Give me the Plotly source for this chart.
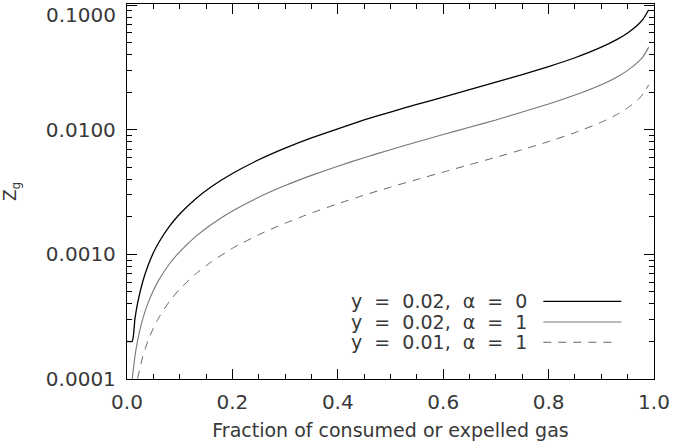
import plotly.graph_objects as go

# Gas-phase metallicity versus fraction of consumed or expelled gas
frac_a = [0.0, 0.01, 0.015, 0.02, 0.03, 0.04, 0.05, 0.06, 0.08, 0.10, 0.13, 0.16,
          0.20, 0.25, 0.30, 0.35, 0.40, 0.45, 0.50, 0.55, 0.60, 0.65, 0.70, 0.75,
          0.80, 0.85, 0.90, 0.93, 0.95, 0.97, 0.98, 0.99]
zg_y002_a0 = [0.0002, 0.000201, 0.000302, 0.000404, 0.000609, 0.000816, 0.00103,
              0.00124, 0.00167, 0.00211, 0.00279, 0.00349, 0.00446, 0.00575,
              0.00713, 0.00862, 0.0102, 0.0120, 0.0139, 0.0160, 0.0183, 0.0210,
              0.0241, 0.0277, 0.0322, 0.0379, 0.0461, 0.0532, 0.0599, 0.0701,
              0.0782, 0.0921]

frac_b = [0.01, 0.015, 0.02, 0.03, 0.04, 0.05, 0.06, 0.08, 0.10, 0.13, 0.16,
          0.20, 0.25, 0.30, 0.35, 0.40, 0.45, 0.50, 0.55, 0.60, 0.65, 0.70, 0.75,
          0.80, 0.85, 0.90, 0.93, 0.95, 0.97, 0.98, 0.99]
zg_y002_a1 = [0.0001005, 0.000151, 0.000202, 0.000305, 0.000408, 0.000513,
              0.000619, 0.000834, 0.00105, 0.00139, 0.00174, 0.00223, 0.00288,
              0.00357, 0.00431, 0.00511, 0.00598, 0.00693, 0.00799, 0.00916,
              0.0105, 0.0120, 0.0139, 0.0161, 0.0190, 0.0230, 0.0266, 0.0300,
              0.0351, 0.0391, 0.0461]

frac_c = [0.02, 0.03, 0.04, 0.05, 0.06, 0.08, 0.10, 0.13, 0.16,
          0.20, 0.25, 0.30, 0.35, 0.40, 0.45, 0.50, 0.55, 0.60, 0.65, 0.70, 0.75,
          0.80, 0.85, 0.90, 0.93, 0.95, 0.97, 0.98, 0.99]
zg_y001_a1 = [0.000101, 0.000152, 0.000204, 0.000256, 0.000309, 0.000417,
              0.000527, 0.000696, 0.000872, 0.00112, 0.00144, 0.00178, 0.00215,
              0.00255, 0.00299, 0.00347, 0.00399, 0.00458, 0.00525, 0.00602,
              0.00693, 0.00805, 0.00949, 0.0115, 0.0133, 0.0150, 0.0175,
              0.0196, 0.0230]

legend_labels = ["y = 0.02, α = 0", "y = 0.02, α = 1", "y = 0.01, α = 1"]
x_ticks = [0.0, 0.2, 0.4, 0.6, 0.8, 1.0]
x_tick_text = ["0.0", "0.2", "0.4", "0.6", "0.8", "1.0"]
y_ticks = [0.0001, 0.001, 0.01, 0.1]
y_tick_text = ["0.0001", "0.0010", "0.0100", "0.1000"]

FONT = "DejaVu Sans"
TXT = "#383838"
NBSP = "\u00a0"
line_styles = [
    dict(color="black", width=1.3, dash="solid"),
    dict(color="#777777", width=1.1, dash="solid"),
    dict(color="#666666", width=1.0, dash="8px,7px"),
]

fig = go.Figure()
for xs, ys, name, st in zip([frac_a, frac_b, frac_c],
                            [zg_y002_a0, zg_y002_a1, zg_y001_a1],
                            legend_labels, line_styles):
    fig.add_trace(go.Scatter(x=xs, y=ys, mode="lines", name=name,
                             line=dict(shape="spline", smoothing=0.5, **st),
                             showlegend=False))

# Legend: text on the left, line sample on the right, widely spaced words
row_y = [0.207, 0.152, 0.098]
for label, yy, st in zip(legend_labels, row_y, line_styles):
    spaced = label.replace(" ", NBSP * 2)
    fig.add_annotation(x=0.762, y=yy, xref="paper", yref="paper", text=spaced,
                       showarrow=False, xanchor="right", yanchor="middle",
                       font=dict(family=FONT, size=19, color=TXT))
    fig.add_shape(type="line", xref="paper", yref="paper",
                  x0=0.79, x1=0.938 if st["dash"] == "solid" else 0.925,
                  y0=yy, y1=yy, line=st)

# Top decade label sits just inside the frame, below its tick
fig.add_annotation(x=0, y=1, xref="paper", yref="paper", text=y_tick_text[-1],
                   showarrow=False, xanchor="right", yanchor="top",
                   xshift=-9, yshift=3,
                   font=dict(family=FONT, size=20, color=TXT))
y_tick_shown = y_tick_text[:-1] + [""]

axis_common = dict(
    showline=True, linecolor="black", linewidth=1.3, mirror="ticks",
    ticks="inside", ticklen=10, tickwidth=1, tickcolor="black",
    showgrid=False, zeroline=False, ticklabeloverflow="allow",
    tickfont=dict(family=FONT, size=20, color=TXT),
)

fig.update_layout(
    width=673, height=448,
    margin=dict(l=127, r=16, t=3, b=69),
    paper_bgcolor="white", plot_bgcolor="white",
    font=dict(family=FONT, color=TXT),
    xaxis=dict(
        range=[0, 1], tickvals=x_ticks, ticktext=x_tick_text,
        ticklabelstandoff=5,
        minor=dict(ticks="inside", ticklen=5, dtick=0.05, tickcolor="black", showgrid=False),
        title=dict(text="Fraction of consumed or expelled gas",
                   font=dict(family=FONT, size=19, color=TXT), standoff=10),
        **axis_common,
    ),
    yaxis=dict(
        type="log", range=[-4, -0.99], tickvals=y_ticks, ticktext=y_tick_shown,
        ticklabelstandoff=6,
        minor=dict(ticks="inside", ticklen=5, dtick="D1", tickcolor="black", showgrid=False),
        title=dict(text="Z<sub>g</sub>", font=dict(family=FONT, size=17, color=TXT),
                   standoff=28),
        **axis_common,
    ),
)

fig.write_html("out.html")
